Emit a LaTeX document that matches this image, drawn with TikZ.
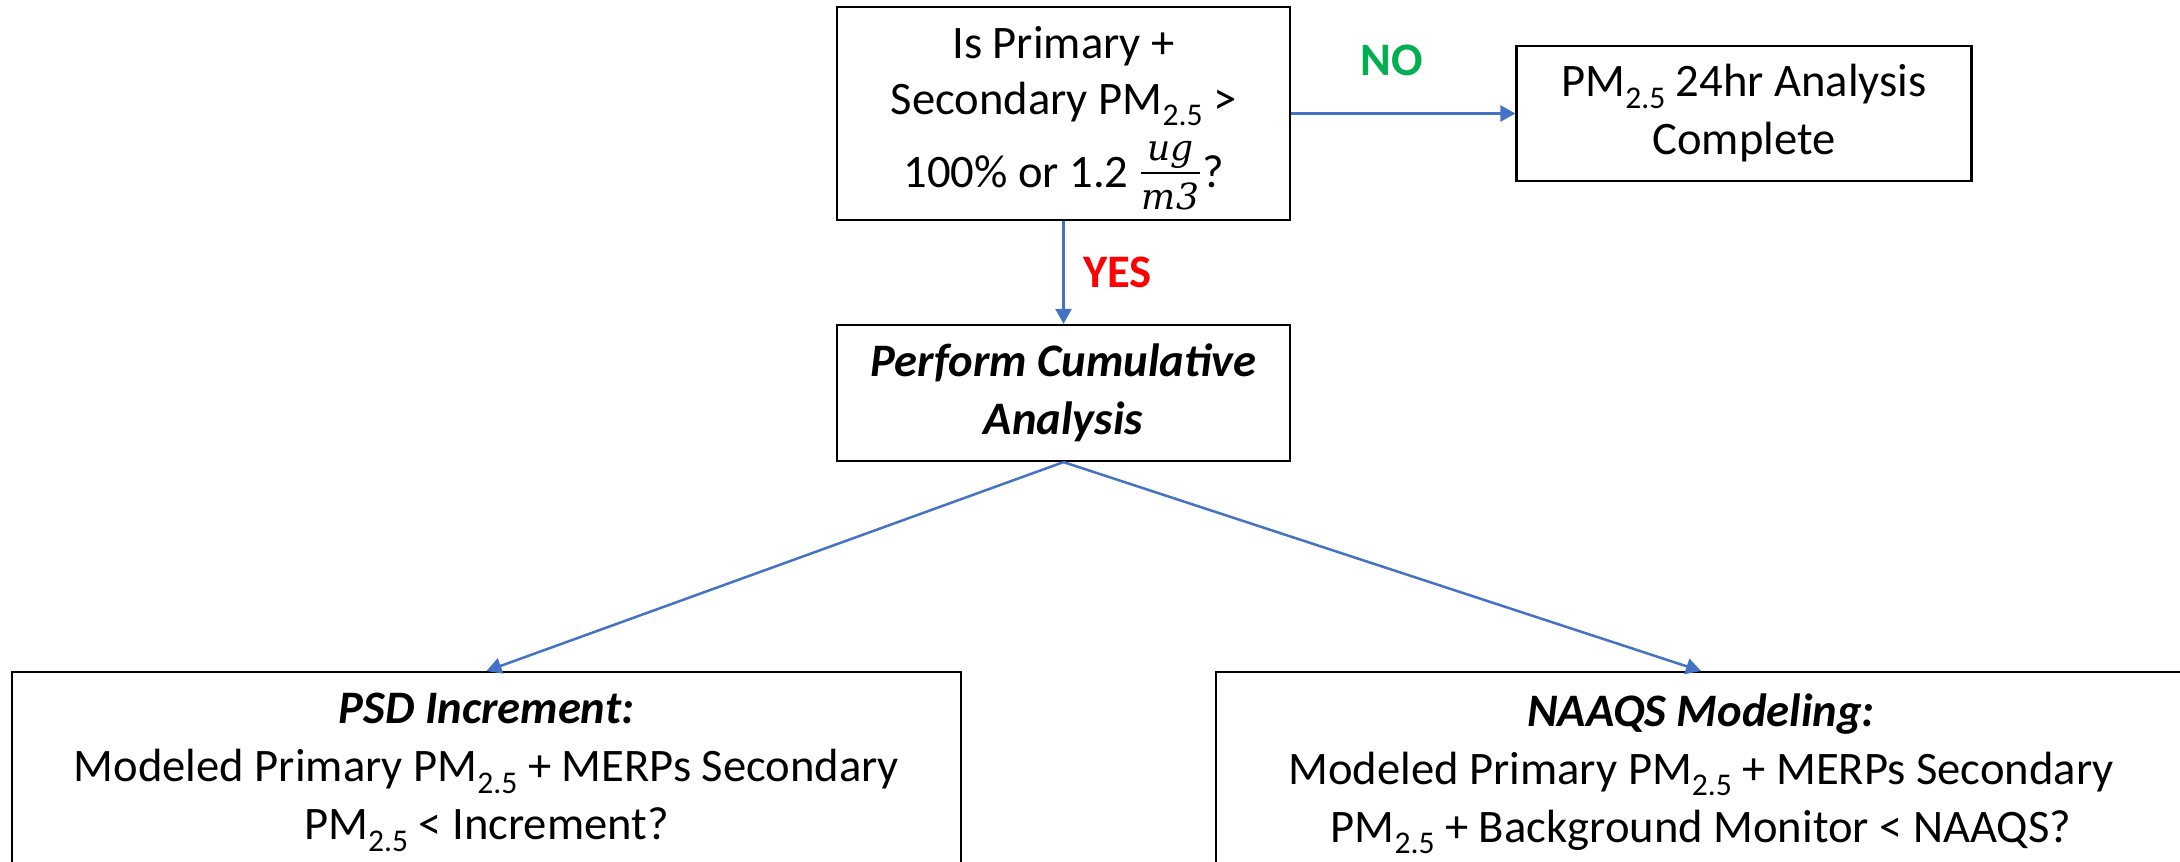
\documentclass[tikz,border=0pt]{standalone}
\usepackage{fontspec}
\setmainfont{Carlito}
\newfontfamily\unitfont{DejaVu Serif}
\usetikzlibrary{arrows.meta,positioning}
\definecolor{flowblue}{HTML}{4472C4}
\definecolor{yesred}{HTML}{FF0000}
\definecolor{nogreen}{HTML}{00B050}
\newcommand{\bodyfont}{\fontsize{23.3pt}{29pt}\selectfont}
% PM2.5 with a large, well-lowered subscript
\newcommand{\pmtf}{PM\raisebox{-0.25em}{\fontsize{15.8pt}{16pt}\selectfont 2.5}}
% stacked unit fraction ug over m3, set without math fonts
\newlength\fracw
\newcommand{\unitfrac}{{\fontsize{18pt}{18pt}\unitfont\itshape
  \settowidth{\fracw}{m3}\addtolength{\fracw}{1pt}%
  \smash{\kern1pt
    \makebox[0pt][l]{\raisebox{13.5pt}{\makebox[\fracw][c]{ug}}}%
    \makebox[0pt][l]{\raisebox{6.4pt}{\rule{\fracw}{1.2pt}}}%
    \raisebox{-11pt}{\makebox[\fracw][c]{m3}}%
  \kern1pt}}}
\begin{document}
\begin{tikzpicture}[x=0.5pt,y=-0.5pt,
  box/.style={draw=black,line width=1.1pt,inner sep=0pt,align=center,font=\bodyfont},
  boxtext/.style={inner sep=0pt,align=center,font=\bodyfont},
  flow/.style={draw=flowblue,line width=1.25pt,-{Triangle[length=7.5pt,width=8pt]}},
  answer/.style={font=\fontsize{23.3pt}{28pt}\selectfont\bfseries}]
\useasboundingbox (0,0) rectangle (2180,862);
\clip (0,0) rectangle (2180,862);
\fill[white] (0,0) rectangle (2180,862);

% decision and result boxes
\node[box,minimum width=226.5pt,minimum height=106.5pt] (q) at (1063.5,113.5)
  {Is Primary +\\[-1pt]Secondary \pmtf{} >\\[7.5pt]100\% or 1.2 \unitfrac?\rule[-7pt]{0pt}{7pt}};
\node[box,minimum width=227.5pt,minimum height=67.5pt] (done) at (1744,113.5)
  {\pmtf{} 24hr Analysis\\Complete};
\node[box,minimum width=226.5pt,minimum height=68pt] (cum) at (1063.5,393)
  {\textbf{\textit{Perform Cumulative}}\\\textbf{\textit{Analysis}}};

% lower boxes (continue below the frame)
\node[box,anchor=north,minimum width=474.5pt,minimum height=130pt] (psdbox) at (486.5,671) {};
\node[boxtext,below=11pt of psdbox.north] (psdtext)
  {\textbf{\textit{PSD Increment:}}\\Modeled Primary \pmtf{} + MERPs Secondary\\\pmtf{} < Increment?};
\node[box,anchor=north,minimum width=485pt,minimum height=130pt] (naaqsbox) at (1701,671) {};
\node[boxtext,below=11pt of naaqsbox.north] (naaqstext)
  {\textbf{\textit{NAAQS Modeling:}}\\Modeled Primary \pmtf{} + MERPs Secondary\\\pmtf{} + Background Monitor < NAAQS?};

% connectors
\draw[flow] (q.east) -- node[pos=.45,yshift=26.5pt,answer,text=nogreen] {NO} (done.west);
\draw[flow] (q.south) -- node[pos=.5,xshift=27pt,answer,text=yesred] {YES} (cum.north);
\draw[flow] (cum.south) -- (psdbox.north);
\draw[flow] (cum.south) -- (naaqsbox.north);
\end{tikzpicture}
\end{document}
